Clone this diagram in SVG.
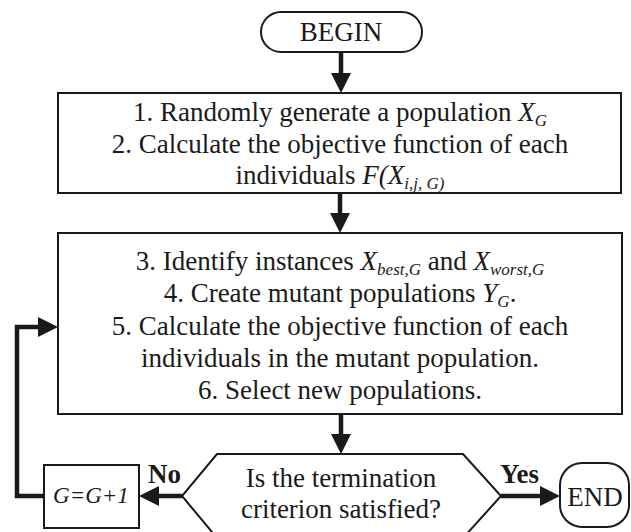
<svg xmlns="http://www.w3.org/2000/svg" width="631" height="532" viewBox="0 0 631 532">
<style>
  .shape { fill: #ffffff; stroke: #1a1a1a; stroke-width: 2; }
  .conn { fill: none; stroke: #1a1a1a; stroke-width: 4.5; }
  text { font-family: "Liberation Serif", "Times New Roman", serif; fill: #1a1a1a; font-size: 27px; }
  .c { text-anchor: middle; }
  .i { font-style: italic; }
  .sub { font-style: italic; font-size: 17px; }
  .b { font-weight: bold; }
</style>
<defs>
  <marker id="ah" viewBox="0 0 20 20" markerWidth="20" markerHeight="20" refX="12" refY="10" orient="auto" markerUnits="userSpaceOnUse">
    <path d="M0,0 L20,10 L0,20 Z" fill="#1a1a1a"/>
  </marker>
</defs>
<rect width="631" height="532" fill="#ffffff"/>

<g id="connectors">
  <path class="conn" d="M341,52 L341,85" marker-end="url(#ah)"/>
  <path class="conn" d="M340,193 L340,225" marker-end="url(#ah)"/>
  <path class="conn" d="M341,414 L341,446" marker-end="url(#ah)"/>
  <path class="conn" d="M182,496 L147,496" marker-end="url(#ah)"/>
  <path class="conn" d="M44,496 L17,496 L17,327 L50,327" marker-end="url(#ah)"/>
  <path class="conn" d="M501,496 L552,496" marker-end="url(#ah)"/>
  <text class="b" x="148" y="483">No</text>
  <text class="b" x="500" y="483">Yes</text>
</g>

<g id="begin">
  <rect class="shape" x="261" y="12" width="161" height="40" rx="20" ry="20"/>
  <text class="c" x="341" y="41">BEGIN</text>
</g>

<g id="init">
  <rect class="shape" x="58" y="93" width="563" height="100"/>
  <text class="c" x="340" y="121">1. Randomly generate a population <tspan class="i">X</tspan><tspan class="sub" dy="5">G</tspan></text>
  <text class="c" x="340" y="153">2. Calculate the objective function of each</text>
  <text class="c" x="340" y="184">individuals <tspan class="i">F(X</tspan><tspan class="sub" dy="5">i,j, G)</tspan></text>
</g>

<g id="loop-body">
  <rect class="shape" x="58" y="233" width="564" height="181"/>
  <text class="c" x="340" y="270">3. Identify instances <tspan class="i">X</tspan><tspan class="sub" dy="5">best,G</tspan><tspan dy="-5"> and </tspan><tspan class="i">X</tspan><tspan class="sub" dy="5">worst,G</tspan></text>
  <text class="c" x="340" y="302">4. Create mutant populations <tspan class="i">Y</tspan><tspan class="sub" dy="5">G</tspan><tspan dy="-5">.</tspan></text>
  <text class="c" x="340" y="335">5. Calculate the objective function of each</text>
  <text class="c" x="340" y="367">individuals in the mutant population.</text>
  <text class="c" x="340" y="399">6. Select new populations.</text>
</g>

<g id="decision">
  <polygon class="shape" points="217,454 463,454 501,496 463,538 217,538 182,496"/>
  <text class="c" x="341" y="487">Is the termination</text>
  <text class="c" x="341" y="518">criterion satisfied?</text>
</g>

<g id="increment">
  <rect class="shape" x="44" y="465" width="95" height="63"/>
  <text class="c i" x="91" y="503" style="font-size:23px">G=G+1</text>
</g>

<g id="end">
  <rect class="shape" x="560" y="463" width="69" height="64" rx="22" ry="22"/>
  <text class="c" x="595" y="506">END</text>
</g>
</svg>
